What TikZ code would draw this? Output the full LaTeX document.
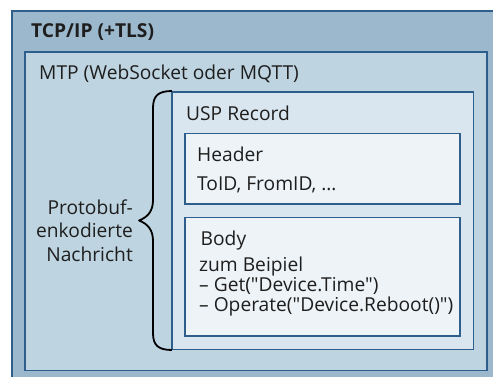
\documentclass[tikz,border=0pt]{standalone}
\usepackage{fontspec}
\setmainfont{Open Sans}[Ligatures=TeXOff]
\definecolor{bordercol}{HTML}{2E5E8C}
\definecolor{fillA}{HTML}{9CB8CC}
\definecolor{fillB}{HTML}{BED4E1}
\definecolor{fillC}{HTML}{DAE6EF}
\definecolor{fillD}{HTML}{EEF3F7}
\definecolor{txt}{HTML}{1E1E1E}
\begin{document}
\begin{tikzpicture}[x=1pt,y=-1pt,
  layerbox/.style={draw=bordercol, line width=1.3pt},
  lbl/.style={anchor=base west, inner sep=0pt, text=txt, font=\fontsize{19.2}{23}\selectfont},
  lblr/.style={anchor=base east, inner sep=0pt, text=txt, font=\fontsize{19.2}{23}\selectfont}]
\useasboundingbox (0,0) rectangle (493,376);
\fill[white] (0,0) rectangle (493,376);
% layers
\draw[layerbox, fill=fillA] (12,11) rectangle (505,390);
\draw[layerbox, fill=fillB] (25,52) rectangle (487,370.5);
\draw[layerbox, fill=fillC] (172,92) rectangle (473.5,349.5);
\draw[layerbox, fill=fillD] (185,133.5) rectangle (460,204);
\draw[layerbox, fill=fillD] (185,217.7) rectangle (460,336);
% labels
\node[lbl, font=\fontsize{19.2}{23}\selectfont\bfseries] (tcp) at (31,37) {TCP/IP (+TLS)};
\node[lbl] (mtp) at (39,79) {MTP (WebSocket oder MQTT)};
\node[lbl] (usp) at (186,120) {USP Record};
\node[lbl] (hdr) at (197,161.7) {Header};
\node[lbl] (ids) at (197,190.7) {ToID, FromID, …};
\node[lbl] (body) at (200.5,245) {Body};
\node[lbl] (ex) at (199,271.7) {zum Beipiel};
\node[lbl] (get) at (199,291.7) {– Get("Device.Time")};
\node[lbl] (op) at (199,311.7) {– Operate("Device.Reboot()")};
\node[lblr] (pb1) at (133,214) {Protobuf-};
\node[lblr] (pb2) at (133,237.5) {enkodierte};
\node[lblr] (pb3) at (133,261.5) {Nachricht};
% brace
\draw[line width=1.8pt, black, line join=round]
  (172,91) .. controls (158,91) and (153,96) .. (153,108)
  -- (153,200) .. controls (153,211) and (148,217) .. (139,220.5)
  .. controls (148,224) and (153,230) .. (153,241)
  -- (153,333) .. controls (153,345) and (158,350) .. (172,350);
\end{tikzpicture}
\end{document}
